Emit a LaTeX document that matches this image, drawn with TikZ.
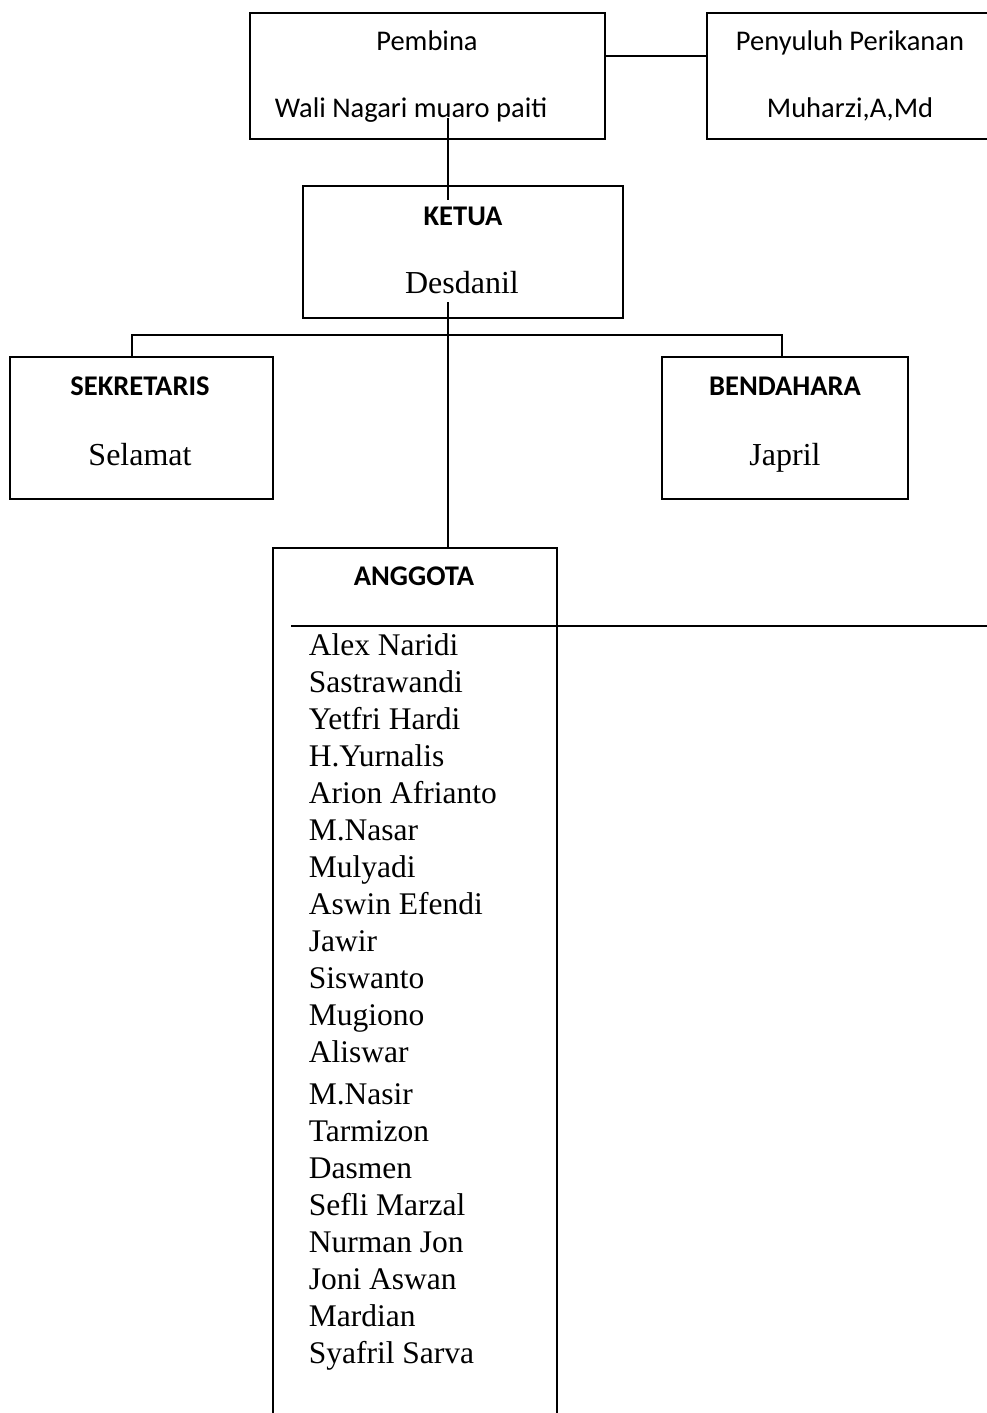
\documentclass[tikz,border=0pt]{standalone}
\usepackage{fontspec}
\setmainfont{Liberation Serif}
\newfontfamily\calfont{Carlito}
\begin{document}
\begin{tikzpicture}[x=1pt,y=-1pt,line width=1.7pt,
  box/.style={draw,rectangle,inner sep=0pt,anchor=north west},
  sans/.style={font=\calfont\fontsize{28.5}{34}\selectfont,inner sep=0pt,anchor=base},
  sansb/.style={font=\calfont\bfseries\fontsize{28.5}{34}\selectfont,inner sep=0pt,anchor=base},
  ser/.style={font=\fontsize{32}{37}\selectfont,inner sep=0pt,anchor=base},
  member/.style={font=\fontsize{31.5}{37}\selectfont,inner sep=0pt,anchor=base west}]
\useasboundingbox (0,0) rectangle (987,1413);
\clip (0,0) rectangle (987,1413);
% boxes
\node[box,minimum width=355pt,minimum height=126pt] (pembina) at (249,12) {};
\node[box,minimum width=300pt,minimum height=126pt] (penyuluh) at (706,12) {};
\node[box,minimum width=320pt,minimum height=132pt] (ketua) at (302,185) {};
\node[box,minimum width=263pt,minimum height=142pt] (sekretaris) at (9,356) {};
\node[box,minimum width=246pt,minimum height=142pt] (bendahara) at (661,356) {};
\node[box,minimum width=284pt,minimum height=900pt] (anggota) at (272,547) {};
% texts
\node[sans] (tpembina) at (427,51) {Pembina};
\node[sans] (twali) at (411,117) {Wali Nagari muaro paiti};
\node[sans] (tpeny) at (850,51) {Penyuluh Perikanan};
\node[sans] (tmuh) at (850,117) {Muharzi,A,Md};
\node[sansb] (tketua) at (463,225) {KETUA};
\node[ser] (tdes) at (462,293) {Desdanil};
\node[sansb] (tsek) at (140,395) {SEKRETARIS};
\node[ser] (tsel) at (140,465) {Selamat};
\node[sansb] (tben) at (785,395) {BENDAHARA};
\node[ser] (tjap) at (785,465) {Japril};
\node[sansb] (tang) at (414,585) {ANGGOTA};
\foreach \n [count=\i from 0] in {Alex Naridi,Sastrawandi,Yetfri Hardi,H.Yurnalis,Arion Afrianto,M.Nasar,Mulyadi,Aswin Efendi,Jawir,Siswanto,Mugiono,Aliswar}
  \node[member] (m\i) at (308,655+37*\i) {\n};
\foreach \n [count=\i from 12] in {M.Nasir,Tarmizon,Dasmen,Sefli Marzal,Nurman Jon,Joni Aswan,Mardian,Syafril Sarva}
  \node[member] (m\i) at (308,1104+37*\i-37*12) {\n};
% connectors
\coordinate (p1) at (pembina.east |- 0,56);
\draw (p1) -- (penyuluh.west |- p1);
\coordinate (v1) at (448,118);
\coordinate (v2) at (448,200);
\draw (v1) -- (v2);
\coordinate (v3) at (448,302);
\draw (v3) -- (anggota.north -| v3);
\coordinate (hl) at (132,335);
\coordinate (hr) at (782,335);
\draw (sekretaris.north -| hl) -- (hl) -- (hr) -- (bendahara.north -| hr);
\coordinate (a1) at (291,626);
\coordinate (a2) at (990,626);
\draw (a1) -- (a2);
\end{tikzpicture}
\end{document}
